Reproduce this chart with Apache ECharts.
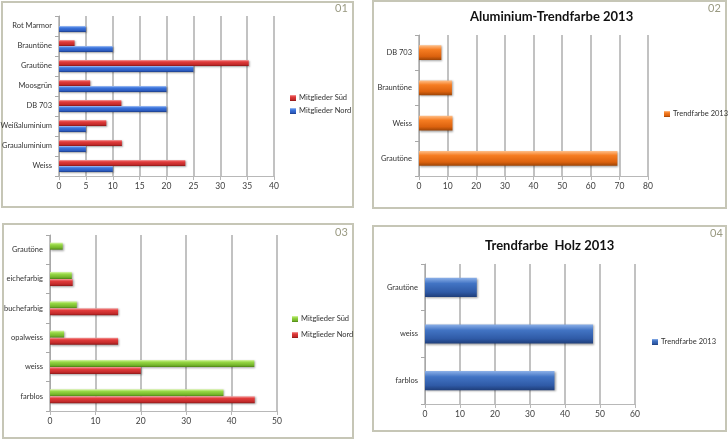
<!DOCTYPE html>
<html><head><meta charset="utf-8">
<script src="https://cdn.jsdelivr.net/npm/echarts@6/dist/echarts.min.js"></script>
<style>
html,body{margin:0;padding:0;background:#fff;width:728px;height:440px;overflow:hidden;}
.c{position:absolute;left:0;top:0;width:728px;height:440px;}
.b{position:absolute;box-sizing:border-box;border:2px solid #c6c6b6;pointer-events:none;}
</style></head><body>
<div class="b" style="left:1px;top:1px;width:353px;height:207px"></div>
<div class="b" style="left:372px;top:0px;width:355px;height:209px"></div>
<div class="b" style="left:2px;top:223px;width:352px;height:216px"></div>
<div class="b" style="left:372px;top:225px;width:355px;height:207px"></div>
<div class="c" id="p1"></div>
<div class="c" id="p2"></div>
<div class="c" id="p3"></div>
<div class="c" id="p4"></div>
<script>
// Panel 01 data (categories bottom -> top)
const cat1 = ['Weiss','Graualuminium','Weißaluminium','DB 703','Moosgrün','Grautöne','Brauntöne','Rot Marmor'];
const sued1 = [23.5, 11.7, 8.8, 11.6, 5.8, 35.3, 2.9, null];
const nord1 = [10, 5, 5, 20, 20, 25, 10, 5];
// Panel 02
const title2 = 'Aluminium-Trendfarbe 2013';
const cat2 = ['Grautöne','Weiss','Brauntöne','DB 703'];
const trend2 = [69.3, 11.7, 11.5, 7.8];
// Panel 03
const cat3 = ['farblos','weiss','opalweiss','buchefarbig','eichefarbig','Grautöne'];
const sued3 = [38.2, 45, 3.1, 5.9, 4.8, 2.8];
const nord3 = [45.1, 20, 15, 15, 5, null];
// Panel 04
const title4 = 'Trendfarbe  Holz 2013';
const cat4 = ['farblos','weiss','Grautöne'];
const trend4 = [37, 48, 14.8];

const FONT = 'Lato';
const G = echarts.graphic.LinearGradient;
function grad(c){ return new G(0,0,0,1,[{offset:0,color:c[0]},{offset:0.3,color:c[1]},{offset:0.75,color:c[2]},{offset:1,color:c[3]}]); }
const RED = ['#f4a0a0','#e23c3c','#c22a2a','#8a1818'];
const BLUE1 = ['#a8c4f4','#3d76de','#2c5cc0','#1c3d88'];
const ORANGE = ['#ffc08a','#f67d22','#dc620e','#9c4406'];
const GREEN = ['#d8f6a8','#97d845','#74b42a','#4c8416'];
const BLUE4 = ['#8cb0e8','#4274c4','#2f5aa6','#1f3e7a'];

function barStyle(c){ return {color:grad(c), shadowColor:'rgba(0,0,0,0.35)', shadowBlur:2, shadowOffsetX:1, shadowOffsetY:1}; }
function xAx(max, interval){
  return {type:'value', min:0, max:max, interval:interval,
    axisLine:{show:true, lineStyle:{color:'#b8b8b8'}},
    axisTick:{show:true, length:4, lineStyle:{color:'#b8b8b8'}},
    axisLabel:{fontFamily:FONT, fontSize:8.5, color:'#404040', margin:6},
    splitLine:{show:true, lineStyle:{color:'#c2c2c2', width:2}}};
}
function yAx(cats){
  return {type:'category', data:cats,
    axisLine:{show:true, lineStyle:{color:'#a8a8a8'}},
    axisTick:{show:true, length:4, lineStyle:{color:'#a8a8a8'}},
    axisLabel:{fontFamily:FONT, fontSize:7.5, color:'#333', margin:7}};
}
function grid(l,t,w,h){ return {left:l, top:t, width:w, height:h, containLabel:false, outerBoundsMode:'none'}; }
function num(t, left, top){ return {text:t, left:left, top:top, padding:0, textStyle:{fontFamily:FONT, fontSize:11, fontWeight:'normal', color:'#9a9a82'}}; }
function bigTitle(t, left, top){ return {text:t, left:left, top:top, padding:0, textStyle:{fontFamily:FONT, fontSize:13, fontWeight:'bold', color:'#111'}}; }
function legend(names, left, top, gap){
  return {orient:'vertical', left:left, top:top, padding:0, itemWidth:6, itemHeight:6, icon:'rect', itemGap:gap,
    data:names, textStyle:{fontFamily:FONT, fontSize:7.5, lineHeight:10, color:'#333', padding:[0,0,0,-2]}};
}

const c1 = echarts.init(document.getElementById('p1'));
c1.setOption({
  animation:false,
  title:[num('01', 335, 3)],
  grid:grid(59, 16, 215, 160),
  xAxis:xAx(40,5), yAxis:yAx(cat1),
  legend:legend(['Mitglieder Süd','Mitglieder Nord'], 290, 93, 3),
  series:[
    {name:'Mitglieder Süd', type:'bar', data:sued1, barGap:'0%', barCategoryGap:'40%', itemStyle:barStyle(RED)},
    {name:'Mitglieder Nord', type:'bar', data:nord1, barGap:'0%', barCategoryGap:'40%', itemStyle:barStyle(BLUE1)}
  ]
});

const c2 = echarts.init(document.getElementById('p2'));
c2.setOption({
  animation:false,
  title:[num('02', 708, 3), bigTitle(title2, 470, 10)],
  grid:grid(419, 35, 229, 141),
  xAxis:xAx(80,10), yAxis:yAx(cat2),
  legend:legend(['Trendfarbe 2013'], 664, 109, 3),
  series:[
    {name:'Trendfarbe 2013', type:'bar', data:trend2, barCategoryGap:'58%', itemStyle:barStyle(ORANGE)}
  ]
});

const c3 = echarts.init(document.getElementById('p3'));
c3.setOption({
  animation:false,
  title:[num('03', 335, 227)],
  grid:grid(50, 235, 227, 176),
  xAxis:xAx(50,10), yAxis:yAx(cat3),
  legend:legend(['Mitglieder Süd','Mitglieder Nord'], 292, 314, 6),
  series:[
    {name:'Mitglieder Süd', type:'bar', data:sued3, barGap:'0%', barCategoryGap:'52%', itemStyle:barStyle(GREEN)},
    {name:'Mitglieder Nord', type:'bar', data:nord3, barGap:'0%', barCategoryGap:'52%', itemStyle:barStyle(RED)}
  ]
});

const c4 = echarts.init(document.getElementById('p4'));
c4.setOption({
  animation:false,
  title:[num('04', 710, 228), bigTitle(title4, 485, 239)],
  grid:grid(425, 264, 210, 140),
  xAxis:xAx(60,10), yAxis:yAx(cat4),
  legend:legend(['Trendfarbe 2013'], 652, 337, 3),
  series:[
    {name:'Trendfarbe 2013', type:'bar', data:trend4, barCategoryGap:'59%', itemStyle:barStyle(BLUE4)}
  ]
});
</script></body></html>
